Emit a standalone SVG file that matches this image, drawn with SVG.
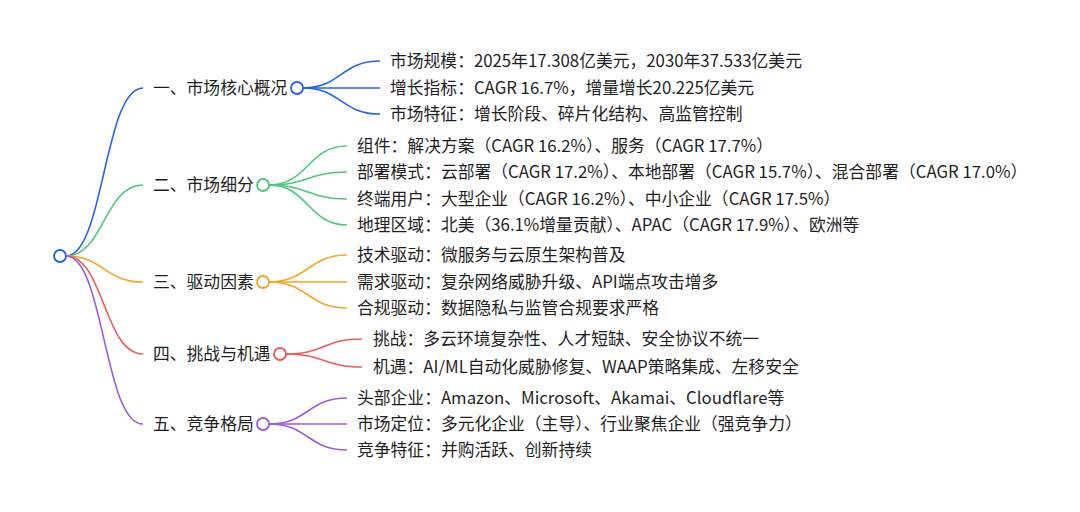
<svg xmlns="http://www.w3.org/2000/svg" width="1080" height="512" viewBox="0 0 1080 512">
<style>
text{font-family:"Noto Sans CJK SC","Noto Sans",sans-serif;font-size:16.8px;fill:#1f1f1f}
.l{fill:none;stroke-width:1.6}
.b{stroke:#2563eb}.g{stroke:#4cc97c}.o{stroke:#f5a623}.r{stroke:#ee5a5a}.p{stroke:#9d5bdc}
.c{fill:#fff;stroke-width:1.8}
</style>
<rect width="1080" height="512" fill="#fff"/>
<g id="connectors">
<path class="l b" d="M66 256 C104 256 104 88 143 88"/>
<path class="l g" d="M66 256 C104 256 104 185 143 185"/>
<path class="l o" d="M66 256 C104 256 104 282 143 282"/>
<path class="l r" d="M66 256 C104 256 104 354 143 354"/>
<path class="l p" d="M66 256 C104 256 104 424 143 424"/>
<path class="l b" d="M303 88 C341 88 341 61 380 61"/>
<path class="l b" d="M303 88 L380 88"/>
<path class="l b" d="M303 88 C341 88 341 114 380 114"/>
<path class="l g" d="M269 185 C308 185 308 146 347 146"/>
<path class="l g" d="M269 185 C308 185 308 172 347 172"/>
<path class="l g" d="M269 185 C308 185 308 199 347 199"/>
<path class="l g" d="M269 185 C308 185 308 225 347 225"/>
<path class="l o" d="M269 282 C308 282 308 255 347 255"/>
<path class="l o" d="M269 282 L347 282"/>
<path class="l o" d="M269 282 C308 282 308 308 347 308"/>
<path class="l r" d="M286 354 C324 354 324 339 362 339"/>
<path class="l r" d="M286 354 C324 354 324 367 362 367"/>
<path class="l p" d="M269 424 C308 424 308 398 347 398"/>
<path class="l p" d="M269 424 L347 424"/>
<path class="l p" d="M269 424 C308 424 308 450 347 450"/>
</g>
<g id="root"><circle class="c b" cx="60" cy="256" r="6"/></g>
<g id="n1">
<text x="153" y="94">一、市场核心概况</text>
<circle class="c b" cx="297" cy="88" r="6"/>
</g>
<g id="n1-1"><text x="390" y="67">市场规模：2025年17.308亿美元，2030年37.533亿美元</text></g>
<g id="n1-2"><text x="390" y="94">增长指标：CAGR 16.7%，增量增长20.225亿美元</text></g>
<g id="n1-3"><text x="390" y="120">市场特征：增长阶段、碎片化结构、高监管控制</text></g>
<g id="n2">
<text x="153" y="191">二、市场细分</text>
<circle class="c g" cx="263" cy="185" r="6"/>
</g>
<g id="n2-1"><text x="357" y="152">组件：解决方案（CAGR 16.2%）、服务（CAGR 17.7%）</text></g>
<g id="n2-2"><text x="357" y="178">部署模式：云部署（CAGR 17.2%）、本地部署（CAGR 15.7%）、混合部署（CAGR 17.0%）</text></g>
<g id="n2-3"><text x="357" y="205">终端用户：大型企业（CAGR 16.2%）、中小企业（CAGR 17.5%）</text></g>
<g id="n2-4"><text x="357" y="231">地理区域：北美（36.1%增量贡献）、APAC（CAGR 17.9%）、欧洲等</text></g>
<g id="n3">
<text x="153" y="288">三、驱动因素</text>
<circle class="c o" cx="263" cy="282" r="6"/>
</g>
<g id="n3-1"><text x="357" y="261">技术驱动：微服务与云原生架构普及</text></g>
<g id="n3-2"><text x="357" y="288">需求驱动：复杂网络威胁升级、API端点攻击增多</text></g>
<g id="n3-3"><text x="357" y="314">合规驱动：数据隐私与监管合规要求严格</text></g>
<g id="n4">
<text x="153" y="360">四、挑战与机遇</text>
<circle class="c r" cx="280" cy="354" r="6"/>
</g>
<g id="n4-1"><text x="373" y="345">挑战：多云环境复杂性、人才短缺、安全协议不统一</text></g>
<g id="n4-2"><text x="373" y="373">机遇：AI/ML自动化威胁修复、WAAP策略集成、左移安全</text></g>
<g id="n5">
<text x="153" y="430">五、竞争格局</text>
<circle class="c p" cx="263" cy="424" r="6"/>
</g>
<g id="n5-1"><text x="357" y="404">头部企业：Amazon、Microsoft、Akamai、Cloudflare等</text></g>
<g id="n5-2"><text x="357" y="430">市场定位：多元化企业（主导）、行业聚焦企业（强竞争力）</text></g>
<g id="n5-3"><text x="357" y="456">竞争特征：并购活跃、创新持续</text></g>
</svg>
